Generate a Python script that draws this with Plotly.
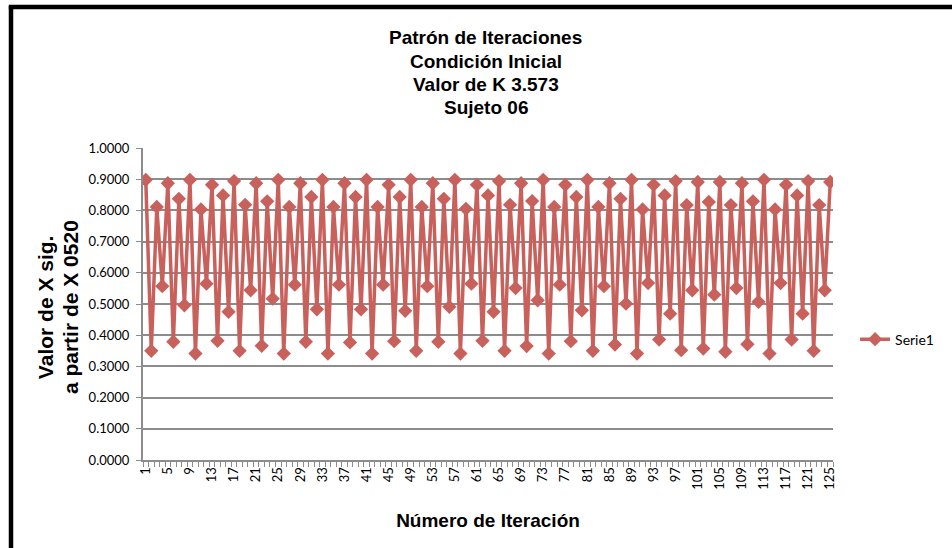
import plotly.graph_objects as go

iteraciones = list(range(1, 126))
valores = [
    0.898, 0.350, 0.811, 0.557, 0.887, 0.379, 0.837, 0.496, 0.898, 0.341,
    0.803, 0.565, 0.882, 0.382, 0.848, 0.475, 0.894, 0.350, 0.818, 0.544,
    0.887, 0.366, 0.829, 0.517, 0.898, 0.341, 0.811, 0.562, 0.887, 0.379,
    0.843, 0.483, 0.898, 0.341, 0.811, 0.562, 0.887, 0.377, 0.843, 0.483,
    0.898, 0.341, 0.811, 0.562, 0.882, 0.381, 0.843, 0.478, 0.898, 0.350,
    0.811, 0.557, 0.887, 0.379, 0.837, 0.491, 0.898, 0.341, 0.805, 0.565,
    0.882, 0.382, 0.848, 0.475, 0.894, 0.350, 0.818, 0.551, 0.887, 0.365,
    0.830, 0.512, 0.898, 0.341, 0.811, 0.562, 0.882, 0.381, 0.843, 0.480,
    0.898, 0.350, 0.811, 0.557, 0.887, 0.370, 0.837, 0.501, 0.898, 0.341,
    0.803, 0.567, 0.882, 0.386, 0.848, 0.469, 0.894, 0.352, 0.817, 0.544,
    0.891, 0.357, 0.827, 0.530, 0.891, 0.347, 0.817, 0.551, 0.887, 0.371,
    0.829, 0.507, 0.898, 0.341, 0.803, 0.567, 0.882, 0.386, 0.848, 0.469,
    0.894, 0.350, 0.817, 0.544, 0.891,
]
x_ticks = list(range(1, 126, 4))
y_ticks = [i / 10 for i in range(0, 11)]
y_tick_labels = [f"{v:.4f}" for v in y_ticks]

titulo_lineas = ["Patrón de Iteraciones", "Condición Inicial", "Valor de K 3.573", "Sujeto 06"]
y_titulo_lineas = ["Valor de X sig.", "a partir de X 0520"]
x_titulo = "Número de Iteración"
serie = "Serie1"

RED = "#C8605C"
GRID = "#8C8C8C"
TICKFONT = dict(family="Lato, Calibri, sans-serif", size=13, color="#000000")
BOLD = "Liberation Sans, Arial, sans-serif"

fig = go.Figure()
fig.add_trace(go.Scatter(
    x=iteraciones, y=valores, mode="lines+markers", name=serie,
    line=dict(color=RED, width=3.5),
    marker=dict(symbol="diamond", size=11, color=RED),
))

annotations = []
title_y = [1.3526, 1.2772, 1.2051, 1.1314]
for txt, yy in zip(titulo_lineas, title_y):
    annotations.append(dict(text="<b>" + txt + "</b>", xref="paper", yref="paper",
                            x=0.497, y=yy, xanchor="center", yanchor="middle",
                            showarrow=False,
                            font=dict(family=BOLD, size=19, color="#000000")))
for txt, xx in zip(y_titulo_lineas, [-0.142, -0.1058]):
    annotations.append(dict(text="<b>" + txt + "</b>", xref="paper", yref="paper",
                            x=xx, y=0.49, xanchor="center", yanchor="middle",
                            textangle=-90, showarrow=False,
                            font=dict(family=BOLD, size=21, color="#000000")))

fig.update_layout(
    width=952, height=548,
    paper_bgcolor="white", plot_bgcolor="white",
    margin=dict(l=143, r=119, t=148, b=88, autoexpand=False),
    showlegend=True,
    legend=dict(x=1.032, xanchor="left", y=0.386, yanchor="middle",
                font=dict(family="Lato, Calibri, sans-serif", size=14, color="#000000"),
                bgcolor="rgba(0,0,0,0)", itemwidth=30),
    annotations=annotations,
    xaxis=dict(
        range=[0.5, 125.5], tickmode="array", tickvals=x_ticks,
        ticktext=[str(v) for v in x_ticks], tickangle=-90,
        tickfont=TICKFONT, ticks="", showgrid=False, zeroline=False,
        showline=True, linecolor=GRID, linewidth=2,
        minor=dict(ticks="outside", tick0=0.5, dtick=1, ticklen=5,
                   tickcolor=GRID, tickwidth=1, showgrid=False),
        title=dict(text="<b>" + x_titulo + "</b>",
                   font=dict(family=BOLD, size=19, color="#000000"), standoff=25),
    ),
    yaxis=dict(
        range=[0, 1.0], tickmode="array", tickvals=y_ticks, ticktext=y_tick_labels,
        tickfont=TICKFONT, ticks="outside", ticklen=5, tickcolor=GRID,
        ticklabelstandoff=4,
        showgrid=True, gridcolor=GRID, gridwidth=1.6, zeroline=False,
        showline=True, linecolor=GRID, linewidth=2,
    ),
    shapes=[
        dict(type="line", xref="paper", yref="paper",
             x0=-0.1913, x1=-0.1913, y0=-0.3, y1=1.455,
             line=dict(color="black", width=4.5)),
        dict(type="line", xref="paper", yref="paper",
             x0=-0.1945, x1=1.2, y0=1.452, y1=1.452,
             line=dict(color="black", width=4.5)),
    ],
)

fig.write_html("out.html", config={"displayModeBar": False},
               post_script="document.body.style.margin='0px';document.body.style.padding='0px';")
